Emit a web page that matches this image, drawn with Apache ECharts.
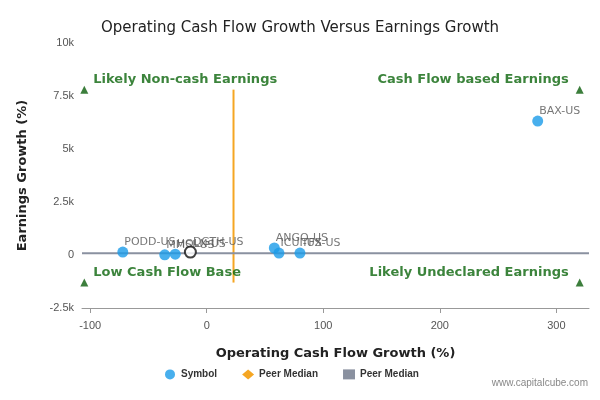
<!DOCTYPE html><html><head><script src="https://cdn.jsdelivr.net/npm/echarts@6/dist/echarts.min.js"></script></head><body style="margin:0"><div id="c" style="width:600px;height:400px"></div><script>
const symbols=['PODD-US','MMSI-US','HOLX-US','ANGO-US','ICUI-US','TFX-US','BAX-US'];
const xVals=[-72,-36,-27,58,62,80,284];
const yVals=[140,10,40,330,90,90,6320];
const subject={name:'DGTH-US',x:-14,y:140};
const peerX=23, peerY=80;
const xTicks=[-100,0,100,200,300];
const quad=[['Likely Non-cash Earnings',-105,7800,'left'],['Cash Flow based Earnings',320,7800,'right'],['Low Cash Flow Base',-105,-1300,'left'],['Likely Undeclared Earnings',320,-1300,'right']];
const ch=echarts.init(document.getElementById('c'));
const lab={show:true,position:'right',offset:[-9,-10],formatter:p=>p.data[2],color:'#555',fontSize:11,fontFamily:'DejaVu Sans'};
ch.setOption({
title:{text:'Operating Cash Flow Growth Versus Earnings Growth',left:'center',top:8,textStyle:{fontSize:15,fontWeight:'normal',color:'#222',fontFamily:'DejaVu Sans'}},
grid:{left:82,right:11,top:43,bottom:92},
xAxis:{type:'value',min:-107,max:328,name:'Operating Cash Flow Growth (%)',nameLocation:'middle',nameGap:28,nameTextStyle:{fontWeight:'bold',fontSize:13,color:'#222',fontFamily:'DejaVu Sans'},
 axisLine:{show:true,onZero:false,lineStyle:{color:'#999'}},splitLine:{show:false},axisTick:{customValues:xTicks,show:true},axisLabel:{customValues:xTicks,color:'#555',fontSize:11}},
yAxis:{type:'value',min:-2500,max:10000,interval:2500,name:'Earnings Growth (%)',nameLocation:'middle',nameGap:46,nameTextStyle:{fontWeight:'bold',fontSize:13,color:'#222',fontFamily:'DejaVu Sans'},
 axisLine:{show:false,onZero:false},axisTick:{show:false},splitLine:{show:false},axisLabel:{color:'#555',fontSize:11,formatter:v=>v===0?'0':(v/1000)+'k'}},
legend:{bottom:12,left:160,itemGap:25,itemWidth:12,itemHeight:10,textStyle:{fontSize:10,fontWeight:'bold',color:'#333'},data:[{name:'Symbol',icon:'circle'},{name:'Peer Median',icon:'diamond'},{name:'Peer Median ',icon:'rect'}]},
graphic:[{type:'text',right:12,bottom:8,style:{text:'www.capitalcube.com',fill:'#888',fontSize:10}}],
series:[
{name:'Peer Median',type:'line',data:[[peerX,-1300],[peerX,7800]],symbol:'none',lineStyle:{color:'#f5a623',width:2},itemStyle:{color:'#f5a623'},z:1},
{name:'Peer Median ',type:'line',data:[[-107,peerY],[328,peerY]],symbol:'none',lineStyle:{color:'#8a91a0',width:2},itemStyle:{color:'#8a91a0'},z:1},
{name:'Symbol',type:'scatter',symbolSize:11,itemStyle:{color:'#1a9be8'},data:symbols.map((s,i)=>[xVals[i],yVals[i],s]),label:lab,z:3},
{name:'Subject',type:'scatter',symbolSize:11,itemStyle:{color:'#fff',borderColor:'#111',borderWidth:2},data:[[subject.x,subject.y,subject.name]],label:lab,z:4},
{name:'Quad',type:'scatter',symbol:'triangle',symbolSize:8,itemStyle:{color:'#0b5e0b'},
 data:quad.map(q=>({value:[q[1],q[2],q[0]],label:{position:q[3]==='left'?'right':'left',offset:q[3]==='left'?[0,-10]:[-2,-10]}})),
 label:{show:true,formatter:p=>p.data.value[2],color:'#0b650b',fontWeight:'bold',fontSize:13,fontFamily:'DejaVu Sans'},z:2}
]});
</script></body></html>
